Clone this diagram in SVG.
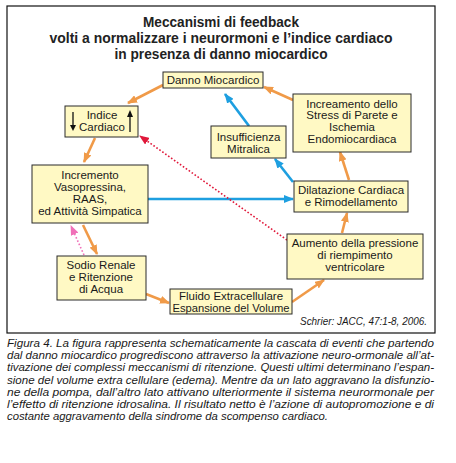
<svg xmlns="http://www.w3.org/2000/svg" width="456" height="463" viewBox="0 0 456 463">
<style>
.box{fill:#FFF9C4;stroke:#2a2a2a;stroke-width:1}
.t{font-family:"Liberation Sans",Arial,sans-serif;font-size:11.5px;fill:#1a1a1a;text-anchor:middle}
.title{font-family:"Liberation Sans",Arial,sans-serif;font-weight:bold;font-size:15px;fill:#222;text-anchor:middle}
.cap{font-family:"Liberation Sans",Arial,sans-serif;font-style:italic;font-size:11.5px;fill:#1a1a1a}
.or{stroke:#F09A48;stroke-width:2.6;fill:none;marker-end:url(#mo)}
.bl{stroke:#1E9FE0;stroke-width:2.6;fill:none;marker-end:url(#mb)}
.rd{stroke:#E0183A;stroke-width:1.6;stroke-dasharray:1.6 2;fill:none;marker-end:url(#mr)}
.pk{stroke:#F070B8;stroke-width:1.6;stroke-dasharray:1.6 2;fill:none;marker-end:url(#mp)}
</style>
<defs>
<marker id="mo" markerUnits="userSpaceOnUse" markerWidth="10" markerHeight="8" refX="9" refY="4" orient="auto"><path d="M0,0 L10,4 L0,8 Z" fill="#F09A48"/></marker>
<marker id="mb" markerUnits="userSpaceOnUse" markerWidth="10" markerHeight="8" refX="9" refY="4" orient="auto"><path d="M0,0 L10,4 L0,8 Z" fill="#1E9FE0"/></marker>
<marker id="mr" markerUnits="userSpaceOnUse" markerWidth="10" markerHeight="8" refX="9" refY="4" orient="auto"><path d="M0,0 L10,4 L0,8 Z" fill="#E0183A"/></marker>
<marker id="mp" markerUnits="userSpaceOnUse" markerWidth="10" markerHeight="8" refX="9" refY="4" orient="auto"><path d="M0,0 L10,4 L0,8 Z" fill="#F070B8"/></marker>
</defs>
<rect x="0" y="0" width="456" height="463" fill="#fff"/>
<rect x="7" y="6" width="428" height="327" fill="#fff" stroke="#111" stroke-width="1.2"/>
<g id="title">
<text class="title" x="221" y="27" textLength="156" lengthAdjust="spacingAndGlyphs">Meccanismi di feedback</text>
<text class="title" x="221" y="43" textLength="343" lengthAdjust="spacingAndGlyphs">volti a normalizzare i neurormoni e l’indice cardiaco</text>
<text class="title" x="221" y="59" textLength="213" lengthAdjust="spacingAndGlyphs">in presenza di danno miocardico</text>
</g>
<g id="connectors">
<line class="or" x1="163" y1="85" x2="128" y2="103"/>
<line class="or" x1="95" y1="138" x2="84" y2="162"/>
<line class="or" x1="83" y1="225" x2="97" y2="254"/>
<line class="or" x1="146" y1="294" x2="169" y2="303"/>
<line class="or" x1="292" y1="302" x2="324" y2="280"/>
<line class="or" x1="342" y1="233" x2="347" y2="213"/>
<line class="or" x1="349" y1="180" x2="340" y2="152"/>
<line class="or" x1="293" y1="100" x2="264" y2="87"/>
<line class="bl" x1="249" y1="126" x2="225" y2="94"/>
<line class="bl" x1="293" y1="182" x2="275" y2="159"/>
<line class="bl" x1="148" y1="199" x2="293" y2="199"/>
<line class="rd" x1="287" y1="240" x2="140" y2="136"/>
<line class="pk" x1="84" y1="255" x2="71" y2="226"/>
</g>
<g id="danno">
<rect class="box" x="163" y="72" width="100" height="16"/>
<text class="t" x="213" y="84">Danno Miocardico</text>
</g>
<g id="indice">
<rect class="box" x="65" y="106" width="73" height="31"/>
<text class="t" x="102" y="118.5">Indice</text>
<text class="t" x="102" y="130.5">Cardiaco</text>
<line x1="73" y1="112" x2="73" y2="126" stroke="#111" stroke-width="1.3"/>
<path d="M70,125 L73,131 L76,125 Z" fill="#111"/>
<line x1="130" y1="132" x2="130" y2="116" stroke="#111" stroke-width="1.3"/>
<path d="M127,117 L130,110 L133,117 Z" fill="#111"/>
</g>
<g id="insufficienza">
<rect class="box" x="211" y="126" width="75" height="32"/>
<text class="t" x="248.5" y="140.5">Insufficienza</text>
<text class="t" x="248.5" y="152.5">Mitralica</text>
</g>
<g id="increamento">
<rect class="box" x="293" y="94" width="118" height="58"/>
<text class="t" x="352" y="107.5">Increamento dello</text>
<text class="t" x="352" y="119">Stress di Parete e</text>
<text class="t" x="352" y="130.5">Ischemia</text>
<text class="t" x="352" y="142.5">Endomiocardiaca</text>
</g>
<g id="vasopressina">
<rect class="box" x="32" y="165" width="116" height="58"/>
<text class="t" x="90" y="179">Incremento</text>
<text class="t" x="90" y="191">Vasopressina,</text>
<text class="t" x="90" y="203">RAAS,</text>
<text class="t" x="90" y="215">ed Attività Simpatica</text>
</g>
<g id="dilatazione">
<rect class="box" x="294" y="181" width="114" height="31"/>
<text class="t" x="351" y="193.5">Dilatazione Cardiaca</text>
<text class="t" x="351" y="205.5">e Rimodellamento</text>
</g>
<g id="aumento">
<rect class="box" x="287" y="234" width="136" height="45"/>
<text class="t" x="355" y="247">Aumento della pressione</text>
<text class="t" x="355" y="259">di riempimento</text>
<text class="t" x="355" y="271">ventricolare</text>
</g>
<g id="sodio">
<rect class="box" x="57" y="256" width="89" height="44"/>
<text class="t" x="101" y="268.5">Sodio Renale</text>
<text class="t" x="101" y="280.5">e Ritenzione</text>
<text class="t" x="101" y="292.5">di Acqua</text>
</g>
<g id="fluido">
<rect class="box" x="170" y="289" width="122" height="25"/>
<text class="t" x="231" y="299.5">Fluido Extracellulare</text>
<text class="t" x="231" y="311.5" textLength="117" lengthAdjust="spacingAndGlyphs">Espansione del Volume</text>
</g>
<text class="cap" x="300" y="325" font-size="10" textLength="127" lengthAdjust="spacingAndGlyphs">Schrier: JACC, 47:1-8, 2006.</text>
<g id="caption">
<text class="cap" x="7" y="347" textLength="427" lengthAdjust="spacingAndGlyphs">Figura 4. La figura rappresenta schematicamente la cascata di eventi che partendo</text>
<text class="cap" x="7" y="359.2" textLength="427" lengthAdjust="spacingAndGlyphs">dal danno miocardico progrediscono attraverso la attivazione neuro-ormonale all’at-</text>
<text class="cap" x="7" y="371.4" textLength="427" lengthAdjust="spacingAndGlyphs">tivazione dei complessi meccanismi di ritenzione. Questi ultimi determinano l’espan-</text>
<text class="cap" x="7" y="383.6" textLength="427" lengthAdjust="spacingAndGlyphs">sione del volume extra cellulare (edema). Mentre da un lato aggravano la disfunzio-</text>
<text class="cap" x="7" y="395.8" textLength="427" lengthAdjust="spacingAndGlyphs">ne della pompa, dall’altro lato attivano ulteriormente il sistema neurormonale per</text>
<text class="cap" x="7" y="408" textLength="427" lengthAdjust="spacingAndGlyphs">l’effetto di ritenzione idrosalina. Il risultato netto è l’azione di autopromozione e di</text>
<text class="cap" x="7" y="420.2" textLength="321" lengthAdjust="spacingAndGlyphs">costante aggravamento della sindrome da scompenso cardiaco.</text>
</g>
</svg>
